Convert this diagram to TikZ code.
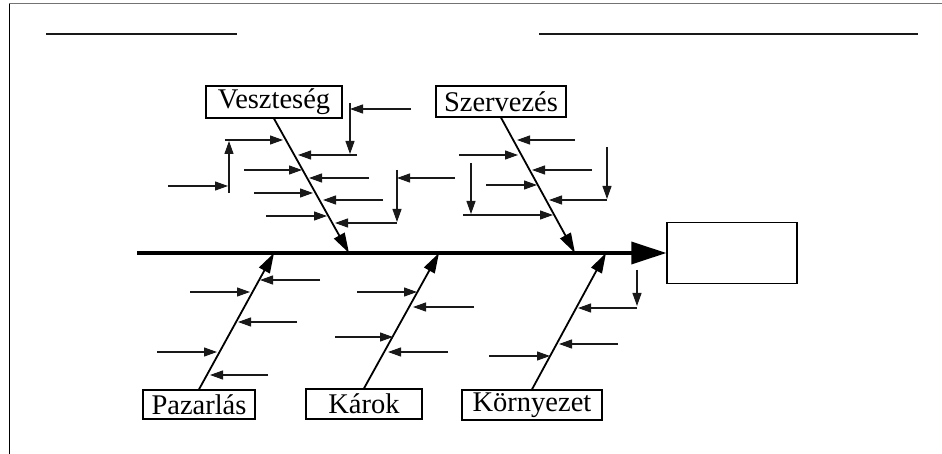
\documentclass[tikz,border=0pt]{standalone}
\usepackage{fontspec}
\setmainfont{Liberation Serif}
\usetikzlibrary{arrows.meta}
\begin{document}
\begin{tikzpicture}[x=1pt,y=-1pt,
  cat/.style={draw,line width=1.3pt,inner sep=0pt,font=\fontsize{28.5}{30}\selectfont},
  effect/.style={draw,line width=1.3pt,minimum width=130pt,minimum height=61pt},
  spine/.style={line width=3.5pt,-{Triangle[length=35pt,width=22pt]}},
  bone/.style={line width=1.8pt,-{Triangle[length=20pt,width=12pt]}},
  cause/.style={line width=1.1pt,black!90,-{Triangle[length=13pt,width=9pt]}},
  rule/.style={line width=2pt,black!90},
  frame/.style={line width=1pt}]
\useasboundingbox (0,0) rectangle (942,454);

% page frame
\coordinate (f0) at (9,4);
\coordinate (f1) at (942,4);
\coordinate (f2) at (9,454);
\draw[frame,black!55] (f0) -- (f1);
\draw[frame] (f0) -- (f2);

% header rules
\coordinate (r1a) at (46,34);  \coordinate (r1b) at (237,34);
\coordinate (r2a) at (539,34); \coordinate (r2b) at (918,34);
\draw[rule] (r1a) -- (r1b);
\draw[rule] (r2a) -- (r2b);

% effect box and spine
\node[effect] (eff) at (732,253) {};
\coordinate (spineL) at (137,253);
\draw[spine] (spineL) -- (eff.west);

% category boxes
\node[cat,minimum width=136pt,minimum height=32pt] (vesz) at (274,102) {Veszteség};
\node[cat,minimum width=130pt,minimum height=31pt] (szer) at (501,101.5) {Szervezés};
\node[cat,minimum width=112pt,minimum height=29pt] (paz)  at (199,404.5) {Pazarlás};
\node[cat,minimum width=116pt,minimum height=30pt] (kar)  at (364,404) {Károk};
\node[cat,minimum width=140pt,minimum height=30pt] (kor)  at (532,405) {Környezet};

% main bones
\coordinate (b1) at (349,253);
\coordinate (b2) at (575,253);
\coordinate (b3) at (274,253);
\coordinate (b4) at (439,253);
\coordinate (b5) at (606,253);
\draw[bone] (vesz.south) -- (b1);
\draw[bone] (szer.south) -- (b2);
\draw[bone] (paz.north) -- (b3);
\draw[bone] (kar.north) -- (b4);
\draw[bone] (kor.north) -- (b5);

% cause arrows
\foreach \n/\xs/\ys/\xe/\ye in {
  v1/168/186/228/186, v2/229/193/229/141, v3/225/140/283/140,
  v4/411/109/350/109, v5/350/103/350/154, v6/357/155/298/155,
  v7/244/170/302/170, v8/369/178/309/178, v9/254/193/313/193,
  v10/383/200/323/200, v11/266/216/327/216,
  v12/455/178/397/178, v13/397/170/397/222, v14/397/223/335/223,
  s1/575/140/517/140, s2/459/155/518/155, s3/592/170/532/170,
  s4/607/147/607/199, s5/607/200/549/200, s6/486/185/537/185,
  s7/471/163/471/214, s8/463/215/553/215,
  p1/320/280/260/280, p2/190/292/250/292, p3/297/322/238/322,
  p4/157/352/217/352, p5/268/375/210/375,
  k1/357/292/417/292, k2/474/307/413/307, k3/335/337/393/337,
  k4/448/352/388/352,
  e1/637/270/637/306, e2/637/308/578/308, e3/618/344/559/344,
  e4/489/356/550/356}
{
  \coordinate (\n s) at (\xs,\ys);
  \coordinate (\n e) at (\xe,\ye);
  \draw[cause] (\n s) -- (\n e);
}
\end{tikzpicture}
\end{document}
